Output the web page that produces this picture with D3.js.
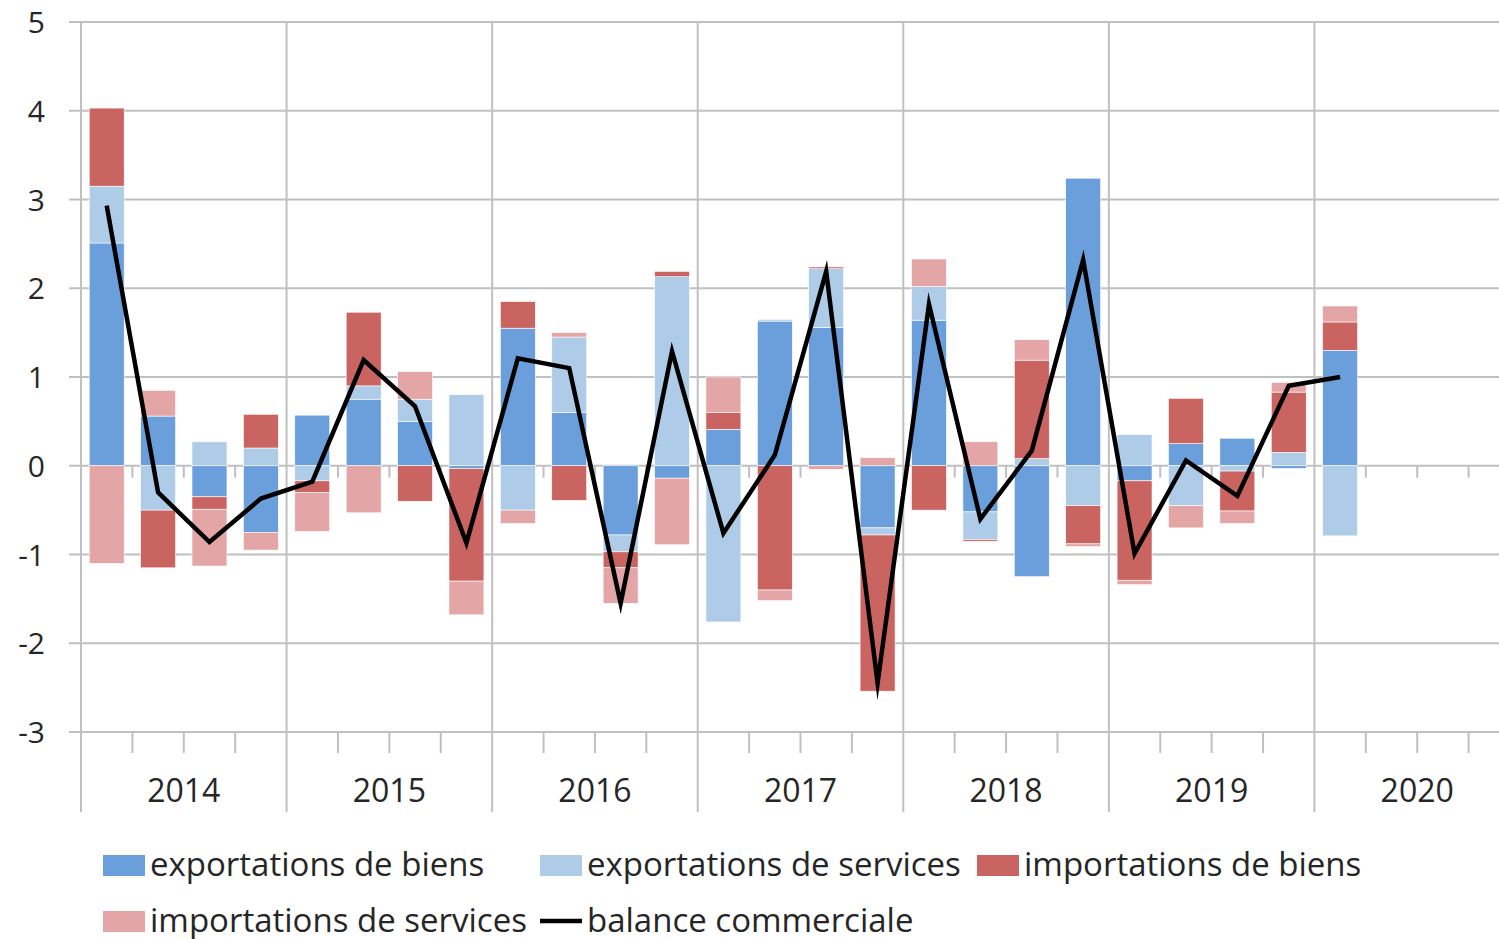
<!DOCTYPE html>
<html>
<head>
<meta charset="utf-8">
<script src="https://cdn.jsdelivr.net/npm/d3@7"></script>
<style>
  body { margin: 0; background: #fff; }
  svg { display: block; font-family: "Open Sans", sans-serif; font-weight: 400; }
</style>
</head>
<body>
<svg id="chart" width="1499" height="939"></svg>
<script>
// quarters 2014T1 .. 2020T4 (data up to 2020T1)
const quarters = ["2014T1","2014T2","2014T3","2014T4","2015T1","2015T2","2015T3","2015T4",
  "2016T1","2016T2","2016T3","2016T4","2017T1","2017T2","2017T3","2017T4",
  "2018T1","2018T2","2018T3","2018T4","2019T1","2019T2","2019T3","2019T4",
  "2020T1","2020T2","2020T3","2020T4"];
const years = ["2014","2015","2016","2017","2018","2019","2020"];
const yTicks = [-3, -2, -1, 0, 1, 2, 3, 4, 5];

const exportsGoods    = [2.51, 0.56, -0.35, -0.75, 0.57, 0.75, 0.50, -0.03, 1.55, 0.60, -0.78, -0.14, 0.41, 1.63, 1.56, -0.70, 1.64, -0.52, -1.25, 3.24, -0.17, 0.25, 0.31, -0.03, 1.30];
const exportsServices = [0.64, -0.50, 0.27, 0.20, -0.17, 0.15, 0.25, 0.80, -0.50, 0.85, -0.19, 2.13, -1.76, 0.02, 0.66, -0.08, 0.38, -0.31, 0.08, -0.45, 0.35, -0.45, -0.06, 0.15, -0.79];
const importsGoods    = [0.88, -0.65, -0.14, 0.38, -0.13, 0.83, -0.40, -1.27, 0.30, -0.39, -0.18, 0.06, 0.19, -1.40, 0.02, -1.76, -0.50, -0.02, 1.11, -0.43, -1.12, 0.51, -0.45, 0.68, 0.32];
const importsServices = [-1.10, 0.29, -0.64, -0.20, -0.44, -0.53, 0.31, -0.38, -0.15, 0.05, -0.40, -0.75, 0.40, -0.12, -0.04, 0.09, 0.31, 0.27, 0.23, -0.03, -0.05, -0.25, -0.14, 0.11, 0.18];
const balance         = [2.93, -0.30, -0.86, -0.37, -0.18, 1.19, 0.67, -0.87, 1.21, 1.10, -1.55, 1.29, -0.76, 0.12, 2.19, -2.45, 1.82, -0.60, 0.17, 2.32, -0.99, 0.06, -0.34, 0.90, 1.00];

const seriesNames = ["exportations de biens", "exportations de services", "importations de biens", "importations de services"];
const colors = ["#6a9fdb", "#aecbe8", "#c96461", "#e3a5a5"];
const grid = "#c0c0c0";
const textColor = "#262626";

const svg = d3.select("#chart");
const plotLeft = 81, plotRight = 1520, plotTop = 22, plotBottom = 732;

const x = d3.scaleBand().domain(quarters).range([plotLeft, plotRight]).paddingInner(0.32).paddingOuter(0.16);
const y = d3.scaleLinear().domain([-3, 5]).range([plotBottom, plotTop]);
const step = x.step();
const edge = i => plotLeft + i * step;

// horizontal gridlines
svg.append("g").selectAll("line")
  .data(yTicks)
  .enter().append("line")
    .attr("x1", plotLeft - 12).attr("x2", plotRight)
    .attr("y1", d => y(d)).attr("y2", d => y(d))
    .style("stroke", grid).style("stroke-width", 2);

// year separators (full height, down through the labels)
svg.append("g").selectAll("line")
  .data(years)
  .enter().append("line")
    .attr("x1", (d, i) => edge(i * 4)).attr("x2", (d, i) => edge(i * 4))
    .attr("y1", plotTop).attr("y2", 812)
    .style("stroke", grid).style("stroke-width", 2);

// quarter ticks on the zero line and at the bottom
const qEdges = d3.range(1, quarters.length).filter(i => i % 4 !== 0);
svg.append("g").selectAll("line")
  .data(qEdges)
  .enter().append("line")
    .attr("x1", d => edge(d)).attr("x2", d => edge(d))
    .attr("y1", y(0)).attr("y2", y(0) + 12)
    .style("stroke", grid).style("stroke-width", 2);
svg.append("g").selectAll("line")
  .data(qEdges)
  .enter().append("line")
    .attr("x1", d => edge(d)).attr("x2", d => edge(d))
    .attr("y1", plotBottom).attr("y2", plotBottom + 21)
    .style("stroke", grid).style("stroke-width", 2);

// stacked bars
const table = balance.map((b, i) => ({
  q: quarters[i],
  s0: exportsGoods[i], s1: exportsServices[i], s2: importsGoods[i], s3: importsServices[i]
}));
const stack = d3.stack().keys(["s0", "s1", "s2", "s3"]).offset(d3.stackOffsetDiverging);
const layers = stack(table);

svg.append("g").selectAll("g")
  .data(layers)
  .enter().append("g")
    .style("fill", (d, i) => colors[i])
  .selectAll("rect")
  .data(d => d)
  .enter().append("rect")
    .attr("x", d => x(d.data.q))
    .attr("width", x.bandwidth())
    .attr("y", d => y(Math.max(d[0], d[1])))
    .attr("height", d => Math.abs(y(d[0]) - y(d[1])))
    .style("stroke", "#fff").style("stroke-width", 0.6);

// balance line
const line = d3.line()
  .x((d, i) => x(quarters[i]) + x.bandwidth() / 2)
  .y(d => y(d));
svg.append("path")
  .datum(balance)
  .attr("d", line)
  .style("fill", "none").style("stroke", "#000").style("stroke-width", 4.5)
  .style("stroke-linejoin", "miter").style("stroke-miterlimit", 10);

// y labels
svg.append("g").selectAll("text")
  .data(yTicks)
  .enter().append("text")
    .attr("x", 45).attr("y", d => y(d) + 11)
    .attr("text-anchor", "end")
    .style("font-size", "30px").style("fill", textColor)
    .text(d => d);

// year labels
svg.append("g").selectAll("text")
  .data(years)
  .enter().append("text")
    .attr("x", (d, i) => edge(i * 4) + 2 * step)
    .attr("y", 802)
    .attr("text-anchor", "middle")
    .style("font-size", "32px").style("fill", textColor)
    .text(d => d);

// legend
const legendItems = [
  { name: seriesNames[0], color: colors[0], x: 103, y: 865 },
  { name: seriesNames[1], color: colors[1], x: 540, y: 865 },
  { name: seriesNames[2], color: colors[2], x: 977, y: 865 },
  { name: seriesNames[3], color: colors[3], x: 103, y: 921 },
  { name: "balance commerciale", line: true, x: 540, y: 921 }
];
const legendG = svg.append("g");
legendItems.forEach(d => {
  if (d.line) {
    legendG.append("line")
      .attr("x1", d.x).attr("x2", d.x + 42)
      .attr("y1", d.y).attr("y2", d.y)
      .style("stroke", "#000").style("stroke-width", 4.5);
  } else {
    legendG.append("rect")
      .attr("x", d.x).attr("y", d.y - 10)
      .attr("width", 42).attr("height", 21)
      .style("fill", d.color);
  }
  legendG.append("text")
    .attr("x", d.x + 47).attr("y", d.y + 11)
    .style("font-size", "33px").style("fill", textColor)
    .text(d.name);
});
</script>
</body>
</html>
